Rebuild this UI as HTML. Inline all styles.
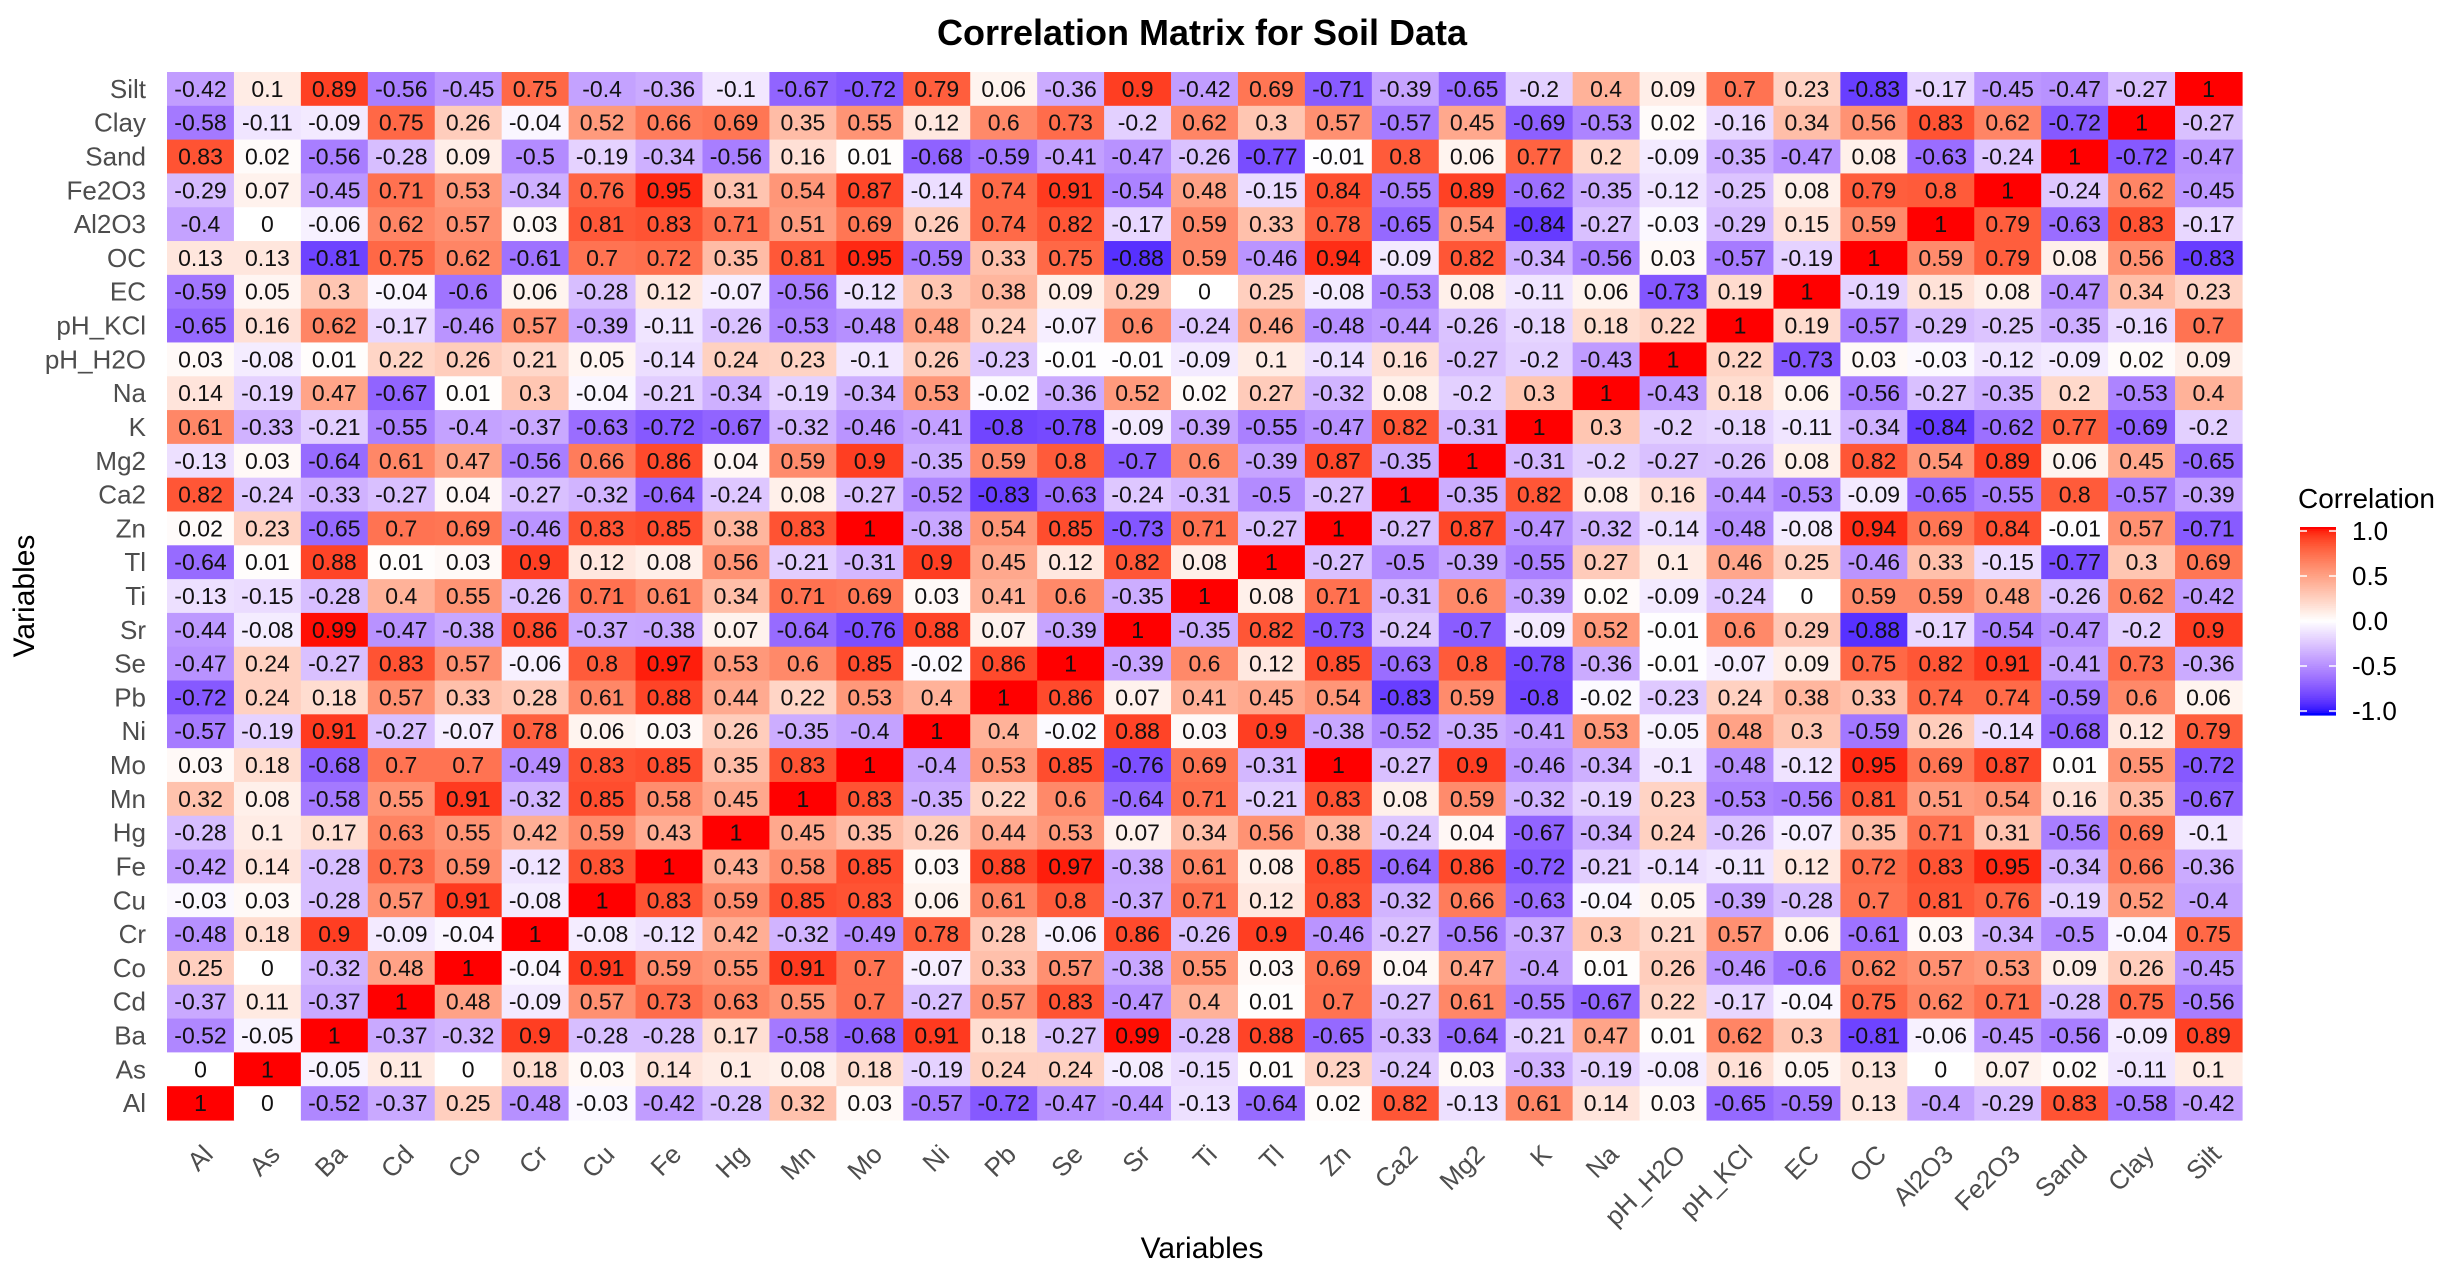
<!DOCTYPE html>
<html><head><meta charset="utf-8"><style>
html,body{margin:0;padding:0;background:#fff;}
svg{display:block;font-family:"Liberation Sans",Arial,sans-serif;}
</style></head><body>
<svg id="s" width="2454" height="1272" xmlns="http://www.w3.org/2000/svg">
<text x="1202" y="45" text-anchor="middle" font-size="36" font-weight="bold" fill="#000">Correlation Matrix for Soil Data</text>
<text x="1202" y="1258" text-anchor="middle" font-size="30" fill="#000">Variables</text>
<text transform="translate(34,596) rotate(-90)" text-anchor="middle" font-size="30" fill="#000">Variables</text>
<text x="2298" y="508" font-size="28" fill="#000">Correlation</text>
<g id="g"></g>
</svg>
<script>
var rows=["Silt","Clay","Sand","Fe2O3","Al2O3","OC","EC","pH_KCl","pH_H2O","Na","K","Mg2","Ca2","Zn","Tl","Ti","Sr","Se","Pb","Ni","Mo","Mn","Hg","Fe","Cu","Cr","Co","Cd","Ba","As","Al"];
var cols=rows.slice().reverse();
var D=`-0.42 0.1 0.89 -0.56 -0.45 0.75 -0.4 -0.36 -0.1 -0.67 -0.72 0.79 0.06 -0.36 0.9 -0.42 0.69 -0.71 -0.39 -0.65 -0.2 0.4 0.09 0.7 0.23 -0.83 -0.17 -0.45 -0.47 -0.27 1
-0.58 -0.11 -0.09 0.75 0.26 -0.04 0.52 0.66 0.69 0.35 0.55 0.12 0.6 0.73 -0.2 0.62 0.3 0.57 -0.57 0.45 -0.69 -0.53 0.02 -0.16 0.34 0.56 0.83 0.62 -0.72 1 -0.27
0.83 0.02 -0.56 -0.28 0.09 -0.5 -0.19 -0.34 -0.56 0.16 0.01 -0.68 -0.59 -0.41 -0.47 -0.26 -0.77 -0.01 0.8 0.06 0.77 0.2 -0.09 -0.35 -0.47 0.08 -0.63 -0.24 1 -0.72 -0.47
-0.29 0.07 -0.45 0.71 0.53 -0.34 0.76 0.95 0.31 0.54 0.87 -0.14 0.74 0.91 -0.54 0.48 -0.15 0.84 -0.55 0.89 -0.62 -0.35 -0.12 -0.25 0.08 0.79 0.8 1 -0.24 0.62 -0.45
-0.4 0 -0.06 0.62 0.57 0.03 0.81 0.83 0.71 0.51 0.69 0.26 0.74 0.82 -0.17 0.59 0.33 0.78 -0.65 0.54 -0.84 -0.27 -0.03 -0.29 0.15 0.59 1 0.79 -0.63 0.83 -0.17
0.13 0.13 -0.81 0.75 0.62 -0.61 0.7 0.72 0.35 0.81 0.95 -0.59 0.33 0.75 -0.88 0.59 -0.46 0.94 -0.09 0.82 -0.34 -0.56 0.03 -0.57 -0.19 1 0.59 0.79 0.08 0.56 -0.83
-0.59 0.05 0.3 -0.04 -0.6 0.06 -0.28 0.12 -0.07 -0.56 -0.12 0.3 0.38 0.09 0.29 0 0.25 -0.08 -0.53 0.08 -0.11 0.06 -0.73 0.19 1 -0.19 0.15 0.08 -0.47 0.34 0.23
-0.65 0.16 0.62 -0.17 -0.46 0.57 -0.39 -0.11 -0.26 -0.53 -0.48 0.48 0.24 -0.07 0.6 -0.24 0.46 -0.48 -0.44 -0.26 -0.18 0.18 0.22 1 0.19 -0.57 -0.29 -0.25 -0.35 -0.16 0.7
0.03 -0.08 0.01 0.22 0.26 0.21 0.05 -0.14 0.24 0.23 -0.1 0.26 -0.23 -0.01 -0.01 -0.09 0.1 -0.14 0.16 -0.27 -0.2 -0.43 1 0.22 -0.73 0.03 -0.03 -0.12 -0.09 0.02 0.09
0.14 -0.19 0.47 -0.67 0.01 0.3 -0.04 -0.21 -0.34 -0.19 -0.34 0.53 -0.02 -0.36 0.52 0.02 0.27 -0.32 0.08 -0.2 0.3 1 -0.43 0.18 0.06 -0.56 -0.27 -0.35 0.2 -0.53 0.4
0.61 -0.33 -0.21 -0.55 -0.4 -0.37 -0.63 -0.72 -0.67 -0.32 -0.46 -0.41 -0.8 -0.78 -0.09 -0.39 -0.55 -0.47 0.82 -0.31 1 0.3 -0.2 -0.18 -0.11 -0.34 -0.84 -0.62 0.77 -0.69 -0.2
-0.13 0.03 -0.64 0.61 0.47 -0.56 0.66 0.86 0.04 0.59 0.9 -0.35 0.59 0.8 -0.7 0.6 -0.39 0.87 -0.35 1 -0.31 -0.2 -0.27 -0.26 0.08 0.82 0.54 0.89 0.06 0.45 -0.65
0.82 -0.24 -0.33 -0.27 0.04 -0.27 -0.32 -0.64 -0.24 0.08 -0.27 -0.52 -0.83 -0.63 -0.24 -0.31 -0.5 -0.27 1 -0.35 0.82 0.08 0.16 -0.44 -0.53 -0.09 -0.65 -0.55 0.8 -0.57 -0.39
0.02 0.23 -0.65 0.7 0.69 -0.46 0.83 0.85 0.38 0.83 1 -0.38 0.54 0.85 -0.73 0.71 -0.27 1 -0.27 0.87 -0.47 -0.32 -0.14 -0.48 -0.08 0.94 0.69 0.84 -0.01 0.57 -0.71
-0.64 0.01 0.88 0.01 0.03 0.9 0.12 0.08 0.56 -0.21 -0.31 0.9 0.45 0.12 0.82 0.08 1 -0.27 -0.5 -0.39 -0.55 0.27 0.1 0.46 0.25 -0.46 0.33 -0.15 -0.77 0.3 0.69
-0.13 -0.15 -0.28 0.4 0.55 -0.26 0.71 0.61 0.34 0.71 0.69 0.03 0.41 0.6 -0.35 1 0.08 0.71 -0.31 0.6 -0.39 0.02 -0.09 -0.24 0 0.59 0.59 0.48 -0.26 0.62 -0.42
-0.44 -0.08 0.99 -0.47 -0.38 0.86 -0.37 -0.38 0.07 -0.64 -0.76 0.88 0.07 -0.39 1 -0.35 0.82 -0.73 -0.24 -0.7 -0.09 0.52 -0.01 0.6 0.29 -0.88 -0.17 -0.54 -0.47 -0.2 0.9
-0.47 0.24 -0.27 0.83 0.57 -0.06 0.8 0.97 0.53 0.6 0.85 -0.02 0.86 1 -0.39 0.6 0.12 0.85 -0.63 0.8 -0.78 -0.36 -0.01 -0.07 0.09 0.75 0.82 0.91 -0.41 0.73 -0.36
-0.72 0.24 0.18 0.57 0.33 0.28 0.61 0.88 0.44 0.22 0.53 0.4 1 0.86 0.07 0.41 0.45 0.54 -0.83 0.59 -0.8 -0.02 -0.23 0.24 0.38 0.33 0.74 0.74 -0.59 0.6 0.06
-0.57 -0.19 0.91 -0.27 -0.07 0.78 0.06 0.03 0.26 -0.35 -0.4 1 0.4 -0.02 0.88 0.03 0.9 -0.38 -0.52 -0.35 -0.41 0.53 -0.05 0.48 0.3 -0.59 0.26 -0.14 -0.68 0.12 0.79
0.03 0.18 -0.68 0.7 0.7 -0.49 0.83 0.85 0.35 0.83 1 -0.4 0.53 0.85 -0.76 0.69 -0.31 1 -0.27 0.9 -0.46 -0.34 -0.1 -0.48 -0.12 0.95 0.69 0.87 0.01 0.55 -0.72
0.32 0.08 -0.58 0.55 0.91 -0.32 0.85 0.58 0.45 1 0.83 -0.35 0.22 0.6 -0.64 0.71 -0.21 0.83 0.08 0.59 -0.32 -0.19 0.23 -0.53 -0.56 0.81 0.51 0.54 0.16 0.35 -0.67
-0.28 0.1 0.17 0.63 0.55 0.42 0.59 0.43 1 0.45 0.35 0.26 0.44 0.53 0.07 0.34 0.56 0.38 -0.24 0.04 -0.67 -0.34 0.24 -0.26 -0.07 0.35 0.71 0.31 -0.56 0.69 -0.1
-0.42 0.14 -0.28 0.73 0.59 -0.12 0.83 1 0.43 0.58 0.85 0.03 0.88 0.97 -0.38 0.61 0.08 0.85 -0.64 0.86 -0.72 -0.21 -0.14 -0.11 0.12 0.72 0.83 0.95 -0.34 0.66 -0.36
-0.03 0.03 -0.28 0.57 0.91 -0.08 1 0.83 0.59 0.85 0.83 0.06 0.61 0.8 -0.37 0.71 0.12 0.83 -0.32 0.66 -0.63 -0.04 0.05 -0.39 -0.28 0.7 0.81 0.76 -0.19 0.52 -0.4
-0.48 0.18 0.9 -0.09 -0.04 1 -0.08 -0.12 0.42 -0.32 -0.49 0.78 0.28 -0.06 0.86 -0.26 0.9 -0.46 -0.27 -0.56 -0.37 0.3 0.21 0.57 0.06 -0.61 0.03 -0.34 -0.5 -0.04 0.75
0.25 0 -0.32 0.48 1 -0.04 0.91 0.59 0.55 0.91 0.7 -0.07 0.33 0.57 -0.38 0.55 0.03 0.69 0.04 0.47 -0.4 0.01 0.26 -0.46 -0.6 0.62 0.57 0.53 0.09 0.26 -0.45
-0.37 0.11 -0.37 1 0.48 -0.09 0.57 0.73 0.63 0.55 0.7 -0.27 0.57 0.83 -0.47 0.4 0.01 0.7 -0.27 0.61 -0.55 -0.67 0.22 -0.17 -0.04 0.75 0.62 0.71 -0.28 0.75 -0.56
-0.52 -0.05 1 -0.37 -0.32 0.9 -0.28 -0.28 0.17 -0.58 -0.68 0.91 0.18 -0.27 0.99 -0.28 0.88 -0.65 -0.33 -0.64 -0.21 0.47 0.01 0.62 0.3 -0.81 -0.06 -0.45 -0.56 -0.09 0.89
0 1 -0.05 0.11 0 0.18 0.03 0.14 0.1 0.08 0.18 -0.19 0.24 0.24 -0.08 -0.15 0.01 0.23 -0.24 0.03 -0.33 -0.19 -0.08 0.16 0.05 0.13 0 0.07 0.02 -0.11 0.1
1 0 -0.52 -0.37 0.25 -0.48 -0.03 -0.42 -0.28 0.32 0.03 -0.57 -0.72 -0.47 -0.44 -0.13 -0.64 0.02 0.82 -0.13 0.61 0.14 0.03 -0.65 -0.59 0.13 -0.4 -0.29 0.83 -0.58 -0.42`;
var M=D.trim().split("\n").map(function(l){return l.trim().split(/\s+/);});
function lin(c){c/=255;return c<=0.04045?c/12.92:Math.pow((c+0.055)/1.055,2.4);}
function toLab(r,g,b){r=lin(r);g=lin(g);b=lin(b);
var x=(r*0.4124+g*0.3576+b*0.1805)/0.95047,y=r*0.2126+g*0.7152+b*0.0722,z=(r*0.0193+g*0.1192+b*0.9505)/1.08883;
function f(t){return t>0.008856?Math.cbrt(t):7.787*t+16/116;}
var fx=f(x),fy=f(y),fz=f(z);return [116*fy-16,500*(fx-fy),200*(fy-fz)];}
function toRgb(L,a,bb){var fy=(L+16)/116,fx=fy+a/500,fz=fy-bb/200;
function fi(t){return t*t*t>0.008856?t*t*t:(t-16/116)/7.787;}
var x=fi(fx)*0.95047,y=fi(fy),z=fi(fz)*1.08883;
var r=x*3.2406-y*1.5372-z*0.4986,g=-x*0.9689+y*1.8758+z*0.0415,b=x*0.0557-y*0.2040+z*1.0570;
function g2(c){c=c<=0.0031308?12.92*c:1.055*Math.pow(c,1/2.4)-0.055;return Math.max(0,Math.min(255,Math.round(c*255)));}
return "rgb("+g2(r)+","+g2(g)+","+g2(b)+")";}
var BL=toLab(0,0,255),WL=toLab(255,255,255),RL=toLab(255,0,0);
function col(v){var e=v<0?BL:RL,t=Math.min(1,Math.abs(v));
return toRgb(WL[0]+(e[0]-WL[0])*t,WL[1]+(e[1]-WL[1])*t,WL[2]+(e[2]-WL[2])*t);}
var x0=167,y0=72,cw=(2242-167)/31,ch=(1120-72)/31,h="";
for(var i=0;i<31;i++){for(var j=0;j<31;j++){var v=parseFloat(M[i][j]);
var x=x0+j*cw,y=y0+i*ch;
h+='<rect x="'+x.toFixed(2)+'" y="'+y.toFixed(2)+'" width="'+(cw+0.6).toFixed(2)+'" height="'+(ch+0.6).toFixed(2)+'" fill="'+col(v)+'"/>';
h+='<text x="'+(x+cw/2).toFixed(1)+'" y="'+(y+ch/2+8).toFixed(1)+'" text-anchor="middle" font-size="23" fill="#111">'+M[i][j]+'</text>';}
h+='<text x="146" y="'+(y0+i*ch+ch/2+9).toFixed(1)+'" text-anchor="end" font-size="26" fill="#4d4d4d">'+rows[i]+'</text>';}
for(var j=0;j<31;j++){var cx=x0+j*cw+cw/2+14,cy=1156;
h+='<text transform="translate('+cx.toFixed(1)+','+cy+') rotate(-45)" text-anchor="end" font-size="26" fill="#4d4d4d">'+cols[j]+'</text>';}
var ly0=527,ly1=715,lh=ly1-ly0;
for(var k=0;k<100;k++){var v=1-2*k/99;h+='<rect x="2300" y="'+(ly0+k*lh/100).toFixed(2)+'" width="36" height="'+(lh/100+0.6).toFixed(2)+'" fill="'+col(v)+'"/>';}
var labs=["1.0","0.5","0.0","-0.5","-1.0"];
for(var k=0;k<5;k++){var yy=ly0+4+k*(lh-8)/4;
h+='<line x1="2300" x2="2307" y1="'+yy+'" y2="'+yy+'" stroke="#fff" stroke-width="1.5"/><line x1="2329" x2="2336" y1="'+yy+'" y2="'+yy+'" stroke="#fff" stroke-width="1.5"/>';
h+='<text x="2352" y="'+(yy+9)+'" font-size="26" fill="#000">'+labs[k]+'</text>';}
document.getElementById("g").innerHTML=h;
</script>
</body></html>
